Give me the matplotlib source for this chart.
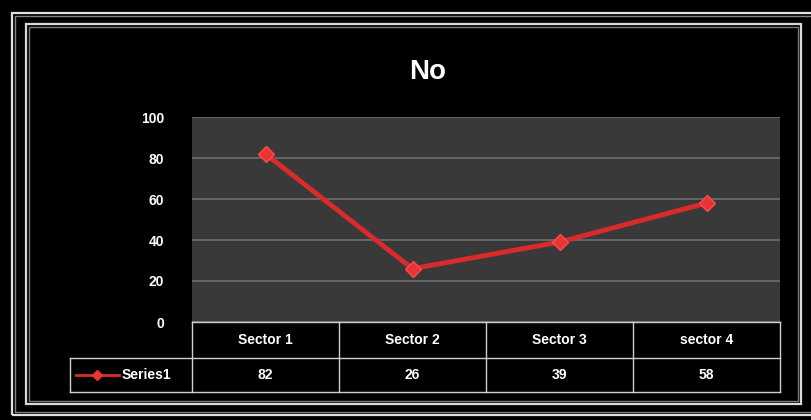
import matplotlib
matplotlib.use("Agg")
import matplotlib.pyplot as plt
from matplotlib.patches import Rectangle

categories = ["Sector 1", "Sector 2", "Sector 3", "sector 4"]
values = [82, 26, 39, 58]
series_name = "Series1"
title = "No"
yticks = [0, 20, 40, 60, 80, 100]

plt.rcParams['font.family'] = ['Liberation Sans Narrow', 'Liberation Sans', 'DejaVu Sans']

W, H = 811, 420
fig = plt.figure(figsize=(W / 100, H / 100), dpi=100, facecolor="black")

def px_rect(x0, y0, x1, y1, lw, color):
    # rectangle in pixel coordinates (top-left origin)
    r = Rectangle((x0 / W, 1 - y1 / H), (x1 - x0) / W, (y1 - y0) / H,
                  transform=fig.transFigure, fill=False, lw=lw, ec=color)
    fig.patches.append(r)

# double frames (bevelled look)
px_rect(12, 13, 812, 415, 1.6, "#e0e0e0")
px_rect(15, 16, 812, 412, 1.0, "#808080")
px_rect(26, 24, 801, 404, 1.6, "#d8d8d8")
px_rect(29, 27, 798, 401, 1.0, "#7a7a7a")

# plot area
ax = fig.add_axes([192 / W, 1 - 322 / H, 588 / W, 205 / H])
ax.set_facecolor("#393939")
for s in ax.spines.values():
    s.set_visible(False)

x = list(range(len(categories)))
ax.set_xlim(-0.5, len(categories) - 0.5)
ax.set_ylim(0, 100)
ax.set_yticks(yticks)
ax.set_yticklabels([str(t) for t in yticks], color="white", fontsize=10, fontweight="bold")
ax.tick_params(axis="y", length=0, pad=20)
ax.set_xticks([])
ax.grid(axis="y", color="#6e6e6e", lw=1.2)
ax.set_axisbelow(True)

ax.plot(x, values, color="#d92b2b", lw=3.5, marker="D", ms=8,
        mec="#ff4a4a", mfc="#e83434", zorder=3)

fig.text(428 / W, 1 - 72 / H, title, color="white", fontsize=20,
         fontweight="bold", ha="center", va="center")

# data table below the plot
tr = ax.get_xaxis_transform()
r1 = -36 / 205
r2 = -70 / 205
leg_x = -0.5 - 122 / 147
lc = "#d0d0d0"
n = len(categories)
ax.plot([-0.5, n - 0.5], [0, 0], color=lc, lw=1, transform=tr, clip_on=False)
ax.plot([leg_x, n - 0.5], [r1, r1], color=lc, lw=1, transform=tr, clip_on=False)
ax.plot([leg_x, n - 0.5], [r2, r2], color=lc, lw=1, transform=tr, clip_on=False)
ax.plot([leg_x, leg_x], [r1, r2], color=lc, lw=1, transform=tr, clip_on=False)
for i in range(n + 1):
    ax.plot([i - 0.5, i - 0.5], [0, r2], color=lc, lw=1, transform=tr, clip_on=False)

for i, (c, v) in enumerate(zip(categories, values)):
    ax.text(i, r1 / 2, c, color="white", fontsize=10, fontweight="bold",
            ha="center", va="center", transform=tr)
    ax.text(i, (r1 + r2) / 2, str(v), color="white", fontsize=10, fontweight="bold",
            ha="center", va="center", transform=tr)

# legend key inside table
ym = (r1 + r2) / 2
ax.plot([leg_x + 0.04, leg_x + 0.33], [ym, ym], color="#d92b2b", lw=2,
        transform=tr, clip_on=False)
ax.plot([leg_x + 0.185], [ym], marker="D", ms=5, color="#e83434",
        transform=tr, clip_on=False)
ax.text(leg_x + 0.35, ym, series_name, color="white", fontsize=10, fontweight="bold",
        ha="left", va="center", transform=tr)

fig.savefig("out.png", dpi=100, facecolor="black")
